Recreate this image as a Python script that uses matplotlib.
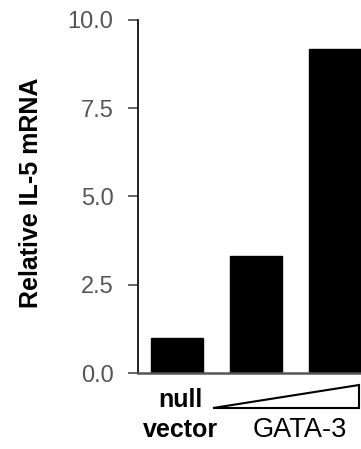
import matplotlib
matplotlib.use("Agg")
import matplotlib.pyplot as plt
from matplotlib.patches import Polygon

plt.rcParams['font.family'] = ['Liberation Sans', 'DejaVu Sans']

categories = ["null vector", "GATA-3 low", "GATA-3 high"]
values = [1.0, 3.31, 9.18]
yticks = [0.0, 2.5, 5.0, 7.5, 10.0]
ytick_labels = ["0.0", "2.5", "5.0", "7.5", "10.0"]

W, H = 361, 449
fig = plt.figure(figsize=(W / 100, H / 100), dpi=100)
left_px, right_px, top_px, bot_px = 138, 420, 20, 373
ax = fig.add_axes([left_px / W, (H - bot_px) / H, (right_px - left_px) / W, (bot_px - top_px) / H])

spacing = 79.0
x0_px = 177.0
xs = list(range(len(categories)))
ax.bar(xs, values, width=0.67, color='black', edgecolor='black')
ax.set_xlim(-(x0_px - left_px) / spacing, (right_px - x0_px) / spacing)
ax.set_ylim(0, 10)
ax.set_yticks(yticks)
ax.set_yticklabels(ytick_labels)
ax.set_xticks([])

for s in ['top', 'right']:
    ax.spines[s].set_visible(False)
ax.spines['left'].set_linewidth(1.3)
ax.spines['left'].set_color('#111111')
ax.spines['bottom'].set_linewidth(1.8)
ax.spines['bottom'].set_color('#555555')
ax.tick_params(axis='y', length=7.2, width=1.4, color='#666666', pad=10.5,
               labelsize=17, labelcolor='#555555')

ax.set_ylabel("Relative IL-5 mRNA", fontsize=18, fontweight='bold')
ax.yaxis.set_label_coords(-(left_px - 43) / (right_px - left_px), 0.51)

def px2x(px):
    return (px - x0_px) / spacing

def py2y(py):
    return (bot_px - py) / ((bot_px - top_px) / 10.0)

ax.text(px2x(180), py2y(400), "null", ha='center', va='center', fontsize=18,
        fontweight='bold', clip_on=False)
ax.text(px2x(180), py2y(430), "vector", ha='center', va='center', fontsize=18,
        fontweight='bold', clip_on=False)
ax.text(px2x(300), py2y(430), "GATA-3", ha='center', va='center', fontsize=19.5,
        clip_on=False)

tri = Polygon([(px2x(213), py2y(408)), (px2x(359), py2y(408)), (px2x(359), py2y(385))],
              closed=True, facecolor='white', edgecolor='black', linewidth=1.5,
              joinstyle='miter', clip_on=False)
ax.add_patch(tri)

fig.savefig("out.png", dpi=100)
